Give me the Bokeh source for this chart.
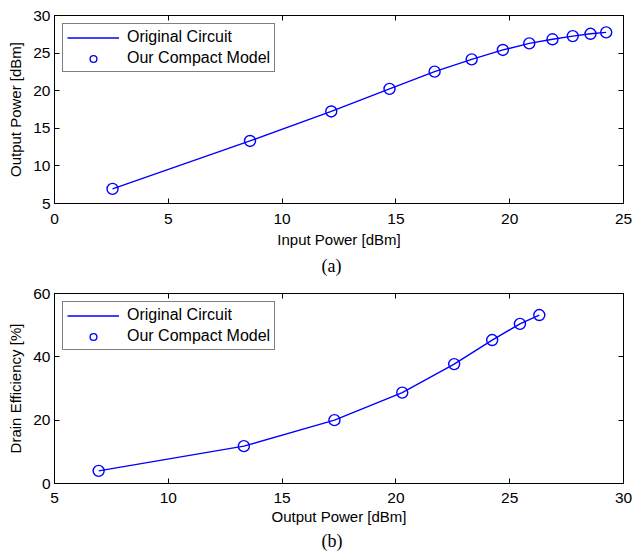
from bokeh.plotting import figure
from bokeh.models import (LinearAxis, FixedTicker, Title, Legend, LegendItem,
                          Range1d, CustomLabelingPolicy)
from bokeh.layouts import column
from bokeh.embed import file_html
from bokeh.resources import INLINE

# ---- data ----
input_power = [2.55, 8.59, 12.16, 14.72, 16.70, 18.33, 19.70, 20.86, 21.88, 22.77, 23.55, 24.24]
output_power = [6.94, 13.32, 17.24, 20.24, 22.53, 24.17, 25.42, 26.29, 26.84, 27.26, 27.57, 27.75]

eff_output_power = [6.94, 13.32, 17.30, 20.28, 22.56, 24.23, 25.45, 26.30]
drain_efficiency = [4.0, 11.8, 20.0, 28.7, 37.7, 45.3, 50.4, 53.2]

xticks_a = [0, 5, 10, 15, 20, 25]
yticks_a = [5, 10, 15, 20, 25, 30]
xticks_b = [5, 10, 15, 20, 25, 30]
yticks_b = [0, 20, 40, 60]

FONT = "Liberation Sans"
BLUE = "#0000FF"


def style_axis(ax, labels=True):
    ax.major_tick_in = 5
    ax.major_tick_out = 0
    ax.minor_tick_in = 0
    ax.minor_tick_out = 0
    ax.axis_line_color = "black"
    ax.major_tick_line_color = "black"
    if labels:
        ax.major_label_text_font = FONT
        ax.major_label_text_font_size = "15.5px"
        ax.major_label_text_color = "black"
        ax.major_label_standoff = 4
        ax.axis_label_text_font = FONT
        ax.axis_label_text_font_size = "15px"
        ax.axis_label_text_font_style = "normal"
        ax.axis_label_text_color = "black"
    else:
        # mirror axis: ticks only, no labels drawn at all
        ax.major_label_policy = CustomLabelingPolicy(
            code="return new indices.constructor(indices.size)")
        ax.major_label_text_font_size = "1px"
        ax.major_label_standoff = 0


def make(x, y, xr, yr, xt, yt, xlabel, ylabel, caption, h, top, bottom,
         cap_standoff, tick_standoff, label_standoff):
    p = figure(width=634, height=h, output_backend="svg", toolbar_location=None,
               x_range=Range1d(*xr), y_range=Range1d(*yr),
               min_border_left=54, min_border_right=11, min_border_top=top,
               min_border_bottom=bottom)
    p.xgrid.visible = False
    p.ygrid.visible = False
    p.outline_line_color = "black"
    p.xaxis.ticker = FixedTicker(ticks=xt)
    p.yaxis.ticker = FixedTicker(ticks=yt)
    p.xaxis.axis_label = xlabel
    p.yaxis.axis_label = ylabel
    style_axis(p.xaxis[0])
    style_axis(p.yaxis[0])
    p.xaxis.major_label_standoff = tick_standoff
    p.xaxis.axis_label_standoff = label_standoff
    p.yaxis.axis_label_standoff = 6

    top_ax = LinearAxis(ticker=FixedTicker(ticks=xt))
    style_axis(top_ax, labels=False)
    p.add_layout(top_ax, "above")
    right_ax = LinearAxis(ticker=FixedTicker(ticks=yt))
    style_axis(right_ax, labels=False)
    p.add_layout(right_ax, "right")

    ln = p.line(x, y, line_color=BLUE, line_width=1.4)
    sc = p.scatter(x, y, marker="circle", size=11, fill_color=None,
                   line_color=BLUE, line_width=1.4)

    legend = Legend(items=[LegendItem(label="Original Circuit", renderers=[ln]),
                           LegendItem(label="Our Compact Model", renderers=[sc])],
                    location="top_left", margin=8, padding=4, spacing=3,
                    glyph_width=52, glyph_height=17, label_height=17,
                    label_standoff=8, label_text_font=FONT,
                    label_text_font_size="16px", label_text_color="black",
                    border_line_color="black", border_line_width=1,
                    background_fill_color="white", background_fill_alpha=1)
    p.add_layout(legend)

    t = Title(text=caption, align="left", text_font="Liberation Serif",
              text_font_size="18px", text_font_style="normal",
              text_color="black", standoff=cap_standoff, offset=267)
    p.add_layout(t, "below")
    return p


pa = make(input_power, output_power, (0, 25), (5, 30), xticks_a, yticks_a,
          "Input Power [dBm]", "Output Power [dBm]", "(a)", 286, 15, 83, 6, 10, 4)
pb = make(eff_output_power, drain_efficiency, (5, 30), (0, 60), xticks_b, yticks_b,
          "Output Power [dBm]", "Drain Efficiency [%]", "(b)", 271, 7, 74, 3, 9, 2)

layout = column(pa, pb, spacing=0)
open("out.html", "w").write(file_html(layout, INLINE))
